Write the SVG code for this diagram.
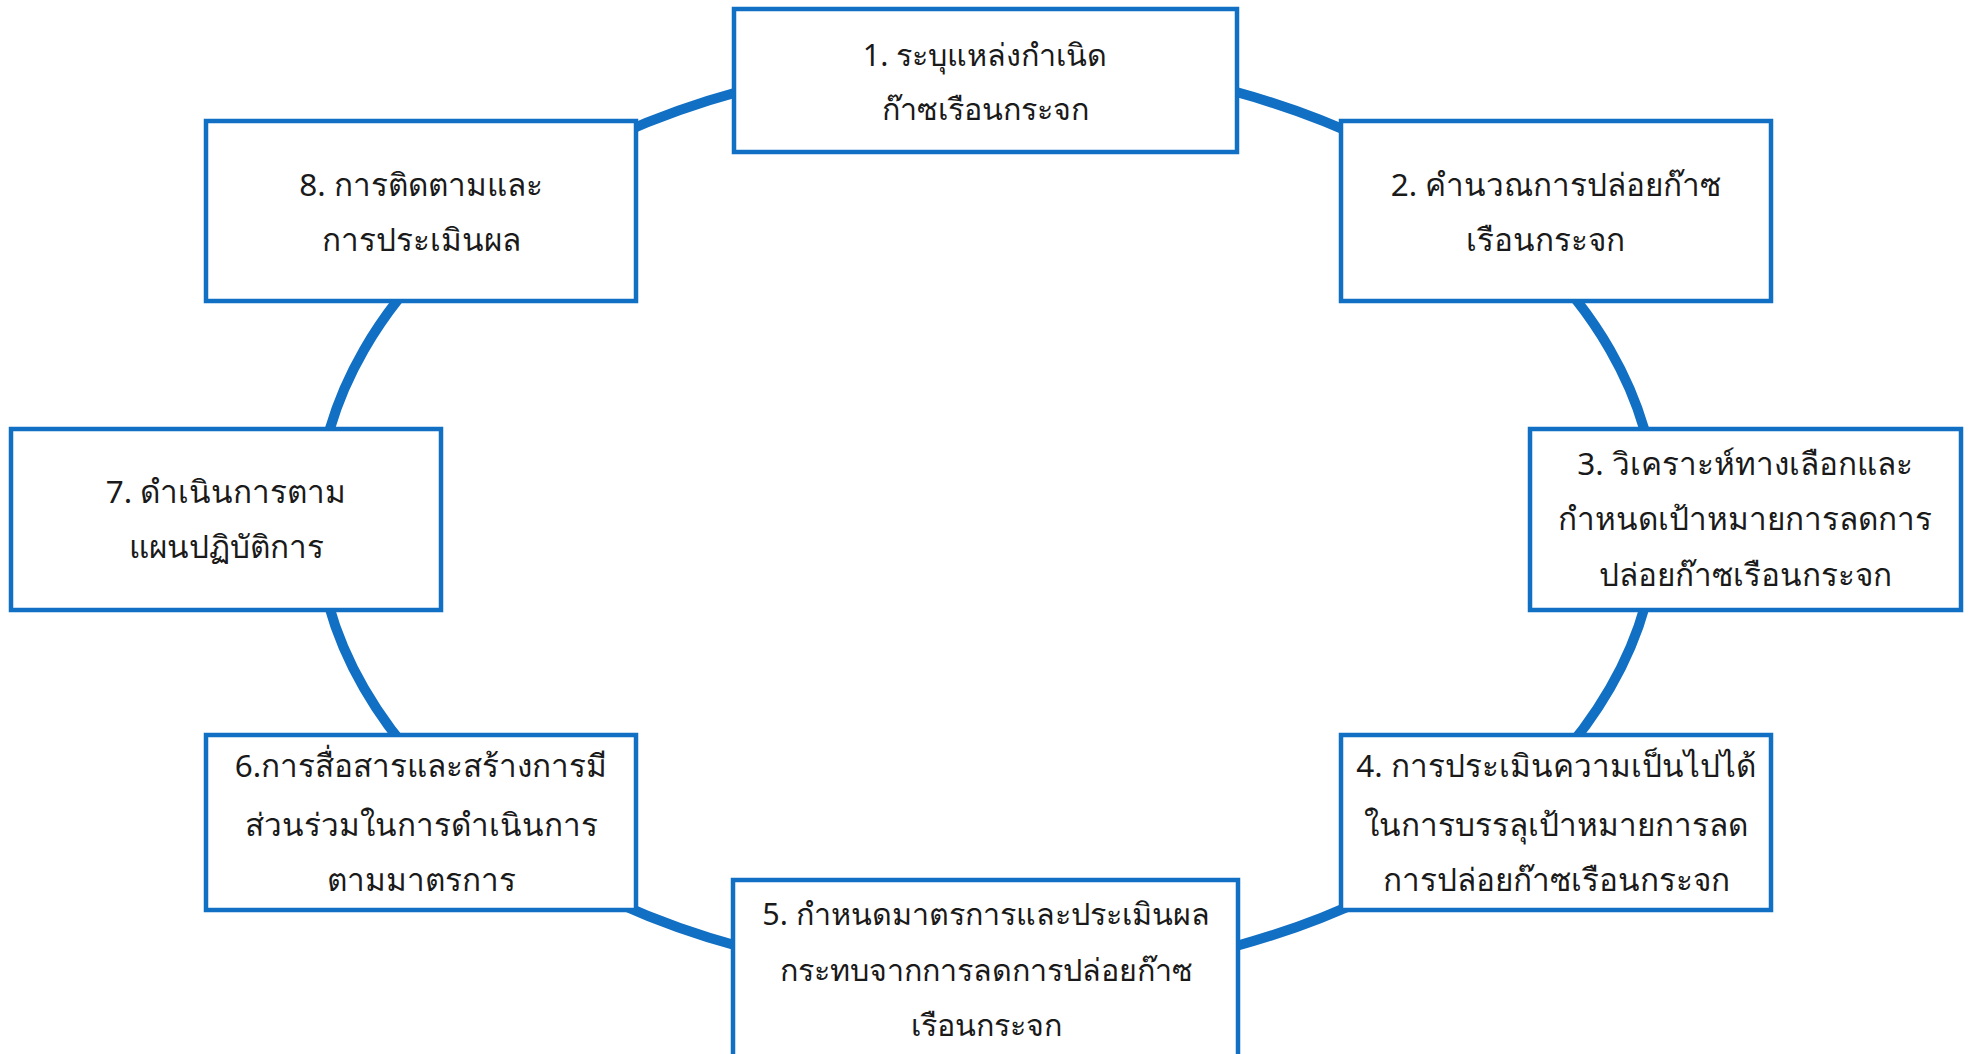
<svg xmlns="http://www.w3.org/2000/svg" width="1972" height="1054" viewBox="0 0 1972 1054">
<style>
.box{fill:#ffffff;stroke:#1170C4;stroke-width:4.5}
.ring{fill:none;stroke:#1170C4;stroke-width:10}
text{font-family:"Noto Sans","Liberation Sans",sans-serif;font-size:31.5px;fill:#1a1a1a;text-anchor:middle}
.n1{font-size:30.5px}
</style>
<rect width="1972" height="1054" fill="#ffffff"/>
<g id="connectors">
<ellipse class="ring" cx="987" cy="519" rx="670" ry="460"/>
</g>
<g id="node1">
<rect class="box" x="734" y="9" width="503" height="143"/>
<text class="n1" x="985" y="66">1. ระบุแหล่งกำเนิด</text>
<text class="n1" x="985" y="120">ก๊าซเรือนกระจก</text>
</g>
<g id="node2">
<rect class="box" x="1341" y="121" width="430" height="180"/>
<text x="1556" y="196">2. คำนวณการปล่อยก๊าซ</text>
<text x="1545" y="251">เรือนกระจก</text>
</g>
<g id="node3">
<rect class="box" x="1530" y="429" width="431" height="181"/>
<text x="1745" y="475">3. วิเคราะห์ทางเลือกและ</text>
<text x="1745" y="530">กำหนดเป้าหมายการลดการ</text>
<text x="1745" y="586">ปล่อยก๊าซเรือนกระจก</text>
</g>
<g id="node4">
<rect class="box" x="1341" y="735" width="430" height="175"/>
<text x="1556" y="777">4. การประเมินความเป็นไปได้</text>
<text x="1556" y="836">ในการบรรลุเป้าหมายการลด</text>
<text x="1556" y="891">การปล่อยก๊าซเรือนกระจก</text>
</g>
<g id="node5">
<rect class="box" x="733" y="880" width="505" height="190"/>
<text class="n1" x="986" y="925">5. กำหนดมาตรการและประเมินผล</text>
<text class="n1" x="986" y="981">กระทบจากการลดการปล่อยก๊าซ</text>
<text class="n1" x="986" y="1036">เรือนกระจก</text>
</g>
<g id="node6">
<rect class="box" x="206" y="735" width="430" height="175"/>
<text x="421" y="777">6.การสื่อสารและสร้างการมี</text>
<text x="421" y="836">ส่วนร่วมในการดำเนินการ</text>
<text x="421" y="891">ตามมาตรการ</text>
</g>
<g id="node7">
<rect class="box" x="11" y="429" width="430" height="181"/>
<text x="226" y="503">7. ดำเนินการตาม</text>
<text x="226" y="558">แผนปฏิบัติการ</text>
</g>
<g id="node8">
<rect class="box" x="206" y="121" width="430" height="180"/>
<text x="421" y="196">8. การติดตามและ</text>
<text x="421" y="251">การประเมินผล</text>
</g>
</svg>
